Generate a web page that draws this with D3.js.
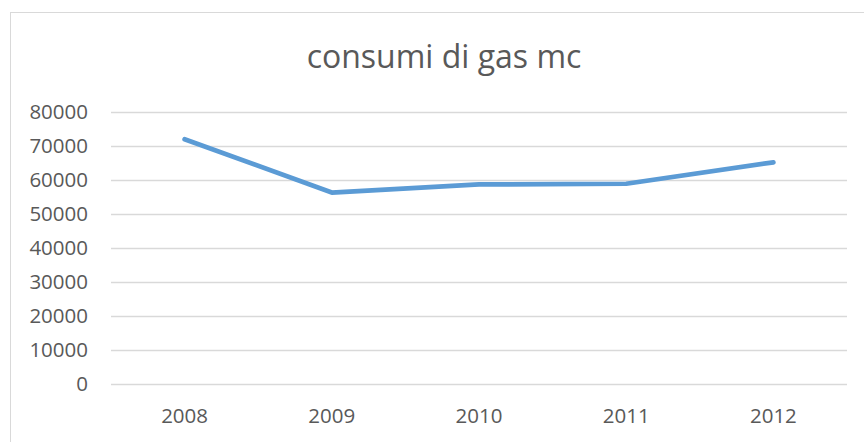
<!DOCTYPE html>
<html>
<head>
<meta charset="utf-8">
<script src="https://cdn.jsdelivr.net/npm/d3@7"></script>
<style>
  html, body { margin: 0; padding: 0; background: #fff; }
  svg { display: block; }
  text { font-family: "Open Sans", "Liberation Sans", sans-serif; fill: #595959; }
</style>
</head>
<body>
<div id="wrapper"></div>
<script>
// data
const years = ['2008', '2009', '2010', '2011', '2012'];
const consumi = [72000, 56300, 58700, 58900, 65200];
const yTicks = [0, 10000, 20000, 30000, 40000, 50000, 60000, 70000, 80000];

const width = 864;
const height = 442;
let dimensions = {
    width: width,
    height: height,
    margin: { top: 112, right: 17, bottom: 58, left: 111 },
};
dimensions.boundedWidth = dimensions.width - dimensions.margin.left - dimensions.margin.right;
dimensions.boundedHeight = dimensions.height - dimensions.margin.top - dimensions.margin.bottom;

const svg = d3.select('#wrapper')
    .append('svg')
    .attr('width', dimensions.width)
    .attr('height', dimensions.height);

// chart area frame, runs off the right and bottom edges
svg.append('rect')
    .attr('x', 10.5)
    .attr('y', 12.5)
    .attr('width', 900)
    .attr('height', 500)
    .attr('fill', 'none')
    .attr('stroke', '#d9d9d9')
    .attr('stroke-width', 1);

svg.append('text')
    .attr('x', 444)
    .attr('y', 68)
    .attr('text-anchor', 'middle')
    .attr('font-size', 32)
    .text('consumi di gas mc');

const bounds = svg.append('g')
    .attr('transform', `translate(${dimensions.margin.left}, ${dimensions.margin.top})`);

const x = d3.scaleBand()
    .domain(years)
    .range([0, dimensions.boundedWidth]);

const y = d3.scaleLinear()
    .domain([0, 80000])
    .range([dimensions.boundedHeight, 0]);

// gridlines
bounds.append('g')
    .selectAll('line')
    .data(yTicks)
    .join('line')
    .attr('x1', 0)
    .attr('x2', dimensions.boundedWidth)
    .attr('y1', d => Math.round(y(d)) + 0.5)
    .attr('y2', d => Math.round(y(d)) + 0.5)
    .attr('stroke', '#d9d9d9')
    .attr('stroke-width', 1.3);

// y tick labels
bounds.append('g')
    .selectAll('text')
    .data(yTicks)
    .join('text')
    .attr('x', -23)
    .attr('y', d => y(d))
    .attr('dy', '0.35em')
    .attr('text-anchor', 'end')
    .attr('font-size', 20.5)
    .text(d => d);

// x tick labels
bounds.append('g')
    .selectAll('text')
    .data(years)
    .join('text')
    .attr('x', d => x(d) + x.bandwidth() / 2)
    .attr('y', dimensions.boundedHeight + 39)
    .attr('text-anchor', 'middle')
    .attr('font-size', 20.5)
    .text(d => d);

const line = d3.line()
    .x((d, i) => x(years[i]) + x.bandwidth() / 2)
    .y(d => y(d));

bounds.append('path')
    .datum(consumi)
    .attr('d', line)
    .attr('fill', 'none')
    .attr('stroke', '#5b9bd5')
    .attr('stroke-width', 4.7)
    .attr('stroke-linecap', 'round')
    .attr('stroke-linejoin', 'round');
</script>
</body>
</html>
